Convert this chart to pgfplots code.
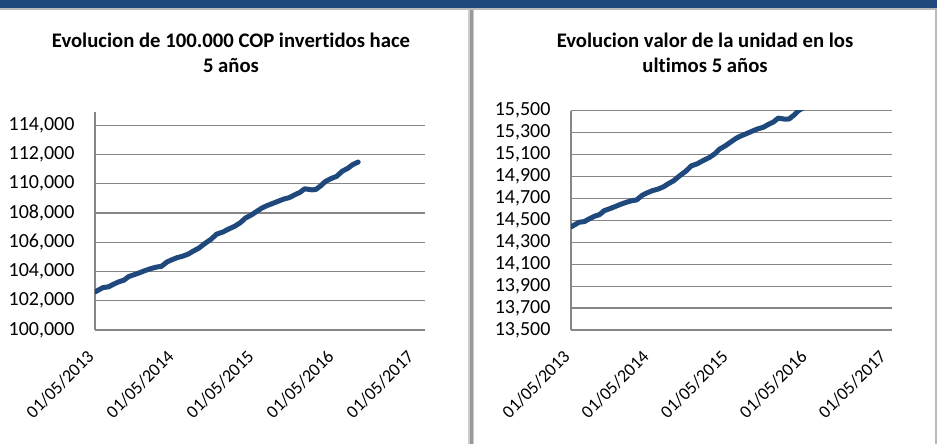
\documentclass[border=0pt]{standalone}
\usepackage{pgfplots}
\pgfplotsset{compat=1.18}
\usepackage{pgfplotstable}
\usepackage{fontspec}
\setmainfont{Carlito}[Ligatures=NoCommon]
\definecolor{barblue}{RGB}{31,73,125}
\definecolor{lineblue}{RGB}{31,73,125}
\definecolor{gridgray}{RGB}{134,134,134}

\pgfplotstableread{
x v
0.00 102600
0.05 102750
0.10 102900
0.17 102950
0.22 103100
0.30 103300
0.36 103400
0.42 103650
0.50 103800
0.55 103900
0.62 104050
0.70 104200
0.77 104300
0.83 104350
0.90 104650
0.96 104800
1.03 104950
1.10 105050
1.17 105200
1.23 105400
1.30 105600
1.37 105900
1.45 106200
1.52 106550
1.60 106700
1.67 106900
1.75 107100
1.82 107350
1.88 107650
1.95 107850
2.02 108100
2.09 108350
2.15 108500
2.22 108650
2.29 108800
2.36 108950
2.43 109050
2.50 109250
2.56 109400
2.62 109650
2.66 109620
2.71 109580
2.76 109600
2.82 109850
2.88 110150
2.95 110350
3.02 110500
3.09 110850
3.16 111050
3.22 111300
3.29 111480
}\inversion

\pgfplotstableread{
x v
0.00 14440
0.05 14461
0.10 14482
0.17 14489
0.22 14510
0.30 14538
0.36 14552
0.42 14588
0.50 14609
0.55 14623
0.62 14644
0.70 14665
0.77 14679
0.83 14686
0.90 14728
0.96 14750
1.03 14771
1.10 14785
1.17 14806
1.23 14834
1.30 14862
1.37 14904
1.45 14947
1.52 14996
1.60 15017
1.67 15045
1.75 15073
1.82 15108
1.88 15150
1.95 15179
2.02 15214
2.09 15249
2.15 15270
2.22 15291
2.29 15313
2.36 15334
2.43 15348
2.50 15376
2.56 15397
2.62 15432
2.66 15428
2.71 15422
2.76 15425
2.82 15460
2.88 15502
2.95 15531
3.02 15552
3.09 15601
3.16 15629
3.22 15664
3.29 15690
}\unidad

\pgfplotsset{
  mychart/.style={
    scale only axis,
    anchor=south west,
    axis x line=bottom,
    axis y line=left,
    axis line style={-, draw=gridgray, line width=1.2pt},
    ymajorgrids,
    grid style={draw=gridgray, line width=1.2pt},
    major tick length=0pt,
    xtick={0,1,2,3,4},
    xticklabels={01/05/2013,01/05/2014,01/05/2015,01/05/2016,01/05/2017},
    xmin=0,
    scaled y ticks=false,
    y tick label style={font=\fontsize{20}{20}\selectfont, anchor=east, xshift=-17pt},
    x tick label style={font=\fontsize{18}{18}\selectfont, xshift=-9pt, yshift=-14pt, rotate=45, anchor=north east},
    yticklabel={\pgfmathprintnumber[fixed,precision=0,1000 sep={,},assume math mode=true]{\tick}},
  },
}

\begin{document}
\begin{tikzpicture}[x=1pt,y=1pt]
\fill[white] (0,0) rectangle (937,444);
\fill[barblue] (0,436) rectangle (937,444);
\fill[gray!55] (0,434) rectangle (937,436);
\fill[gray!40] (468,0) rectangle (474,434);
\fill[gray!80] (470,0) rectangle (472.5,434);
\fill[gray!55] (934.5,0) rectangle (937,434);

\node[anchor=base, font=\fontsize{20.7}{25}\selectfont\bfseries] at (231,396) {Evolucion de 100.000 COP invertidos hace};
\node[anchor=base, font=\fontsize{20.7}{25}\selectfont\bfseries] at (231,371) {5 años};
\node[anchor=base, font=\fontsize{20.7}{25}\selectfont\bfseries] at (705,396) {Evolucion valor de la unidad en los};
\node[anchor=base, font=\fontsize{20.7}{25}\selectfont\bfseries] at (705,371) {ultimos 5 años};

\begin{axis}[mychart,
  at={(95pt,114pt)}, width=330pt, height=218pt,
  xmax=4.125, ymin=100000, ymax=114900,
  ytick={100000,102000,104000,106000,108000,110000,112000,114000}]
\addplot[lineblue, line width=5pt, line cap=round, line join=round] table[x=x,y=v] {\inversion};
\end{axis}

\begin{axis}[mychart,
  at={(571pt,114pt)}, width=321pt, height=219.3pt,
  xmax=4.06, ymin=13500, ymax=15500,
  ytick={13500,13700,13900,14100,14300,14500,14700,14900,15100,15300,15500}]
\addplot[lineblue, line width=5pt, line cap=round, line join=round] table[x=x,y=v] {\unidad};
\end{axis}
\end{tikzpicture}
\end{document}
